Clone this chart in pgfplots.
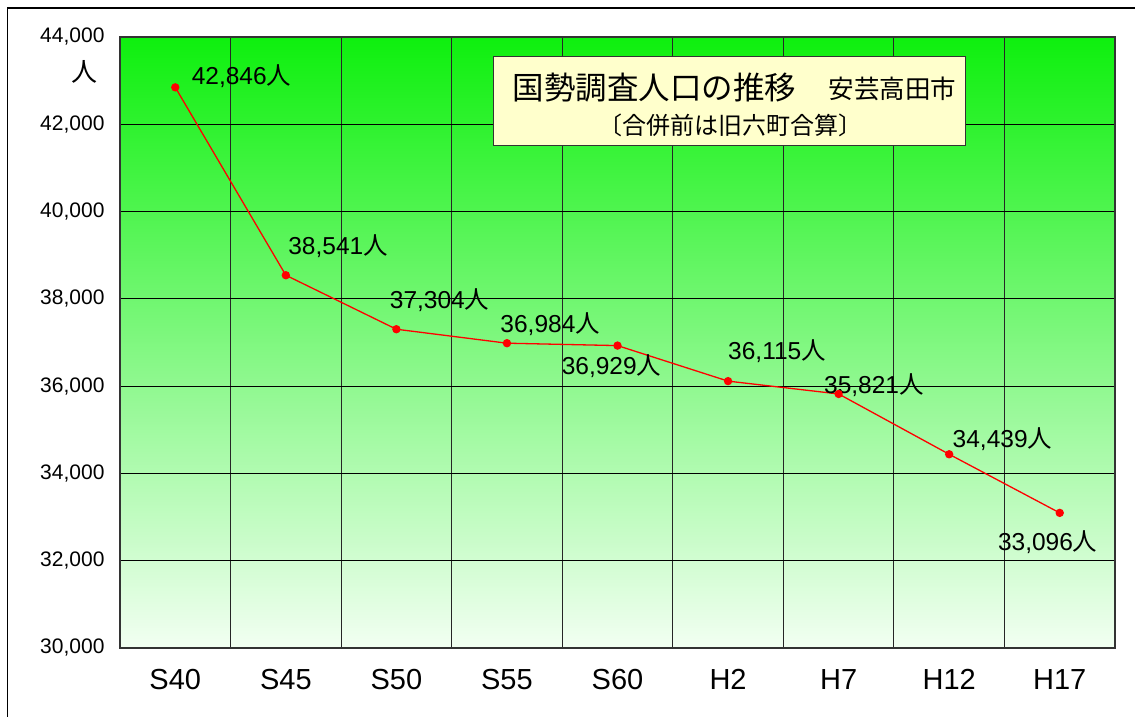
\documentclass[border=0pt]{standalone}
\usepackage{pgfplots}
\pgfplotsset{compat=1.18}
\usepackage{fontspec}
\setmainfont{Liberation Sans}
\newfontfamily\cjk{Noto Sans CJK JP}
\definecolor{topg}{RGB}{14,240,14}
\definecolor{midg}{RGB}{150,246,150}
\definecolor{botg}{RGB}{242,255,242}
\definecolor{boxy}{RGB}{255,255,204}
\pgfplotstableread{
x y
0 42846
1 38541
2 37304
3 36984
4 36929
5 36115
6 35821
7 34439
8 33096
}\poptable
\newcommand{\nin}{{\cjk 人}}
\begin{document}
\begin{tikzpicture}[x=1pt,y=1pt]
\path[use as bounding box] (0,0) rectangle (1135,717);
\fill[white] (0,0) rectangle (1135,717);
\draw[black, line width=1.5pt] (7.5,0) -- (7.5,709) -- (1135,709);
\begin{axis}[
  at={(120pt,69pt)}, anchor=south west,
  scale only axis, width=995pt, height=611pt,
  xmin=-0.5, xmax=8.5, ymin=30000, ymax=44000,
  xtick={0,...,8},
  xticklabels={S40,S45,S50,S55,S60,H2,H7,H12,H17},
  minor xtick={0.5,1.5,...,7.5},
  minor x grid style={gray!30!black, line width=1pt},
  xminorgrids=true,
  ytick={30000,32000,...,44000},
  ymajorgrids=true,
  major grid style={black, line width=1pt},
  major tick length=0pt, minor tick length=0pt,
  scaled y ticks=false,
  /pgf/number format/assume math mode=true,
  /pgf/number format/fixed,
  /pgf/number format/1000 sep={,},
  tick label style={font=\fontsize{21}{23}\selectfont},
  xticklabel style={font=\fontsize{29}{31}\selectfont, yshift=-18pt},
  yticklabel style={xshift=-12pt},
  axis line style={black!80, line width=1.2pt},
  axis background/.style={top color=topg, middle color=midg, bottom color=botg},
  clip=false,
]
\addplot[red, line width=1.3pt, mark=*, mark size=3.5pt, mark options={fill=red, draw=red}] table[x=x,y=y] {\poptable};
\begin{scope}[font=\fontsize{24.5}{26}\selectfont]
\node[anchor=west] at (axis cs:0,42846) [xshift=13pt, yshift=11pt] {42,846\nin};
\node[anchor=west] at (axis cs:1,38541) [xshift=-1pt, yshift=29pt] {38,541\nin};
\node[anchor=west] at (axis cs:2,37304) [xshift=-10pt, yshift=29pt] {37,304\nin};
\node[anchor=west] at (axis cs:3,36984) [xshift=-10pt, yshift=19pt] {36,984\nin};
\node at (axis cs:4,36929) [xshift=-6pt, yshift=-21pt] {36,929\nin};
\node at (axis cs:5,36115) [xshift=49pt, yshift=30pt] {36,115\nin};
\node[anchor=west] at (axis cs:6,35821) [xshift=-18pt, yshift=9pt] {35,821\nin};
\node[anchor=west] at (axis cs:7,34439) [xshift=0pt, yshift=15pt] {34,439\nin};
\node at (axis cs:8,33096) [xshift=-12pt, yshift=-29pt] {33,096\nin};
\end{scope}
\node[font=\cjk\fontsize{26}{28}\selectfont, anchor=center] at (rel axis cs:0,1) [xshift=-35pt, yshift=-35pt] {人};
\node[draw=black!80, line width=1pt, fill=boxy, anchor=north west, minimum width=472pt, minimum height=89pt, inner sep=0pt] (tb) at (axis cs:2.874,43564) {};
\node[font=\cjk\fontsize{31.5}{33}\selectfont, anchor=west] at ([xshift=16pt, yshift=-32pt]tb.north west) {国勢調査人口の推移};
\node[font=\cjk\fontsize{25.5}{27}\selectfont, anchor=east] at ([xshift=-6pt, yshift=-33pt]tb.north east) {安芸高田市};
\node[font=\cjk\fontsize{24}{26}\selectfont] at ([xshift=1pt, yshift=-69pt]tb.north) {〔合併前は旧六町合算〕};
\end{axis}
\end{tikzpicture}
\end{document}
